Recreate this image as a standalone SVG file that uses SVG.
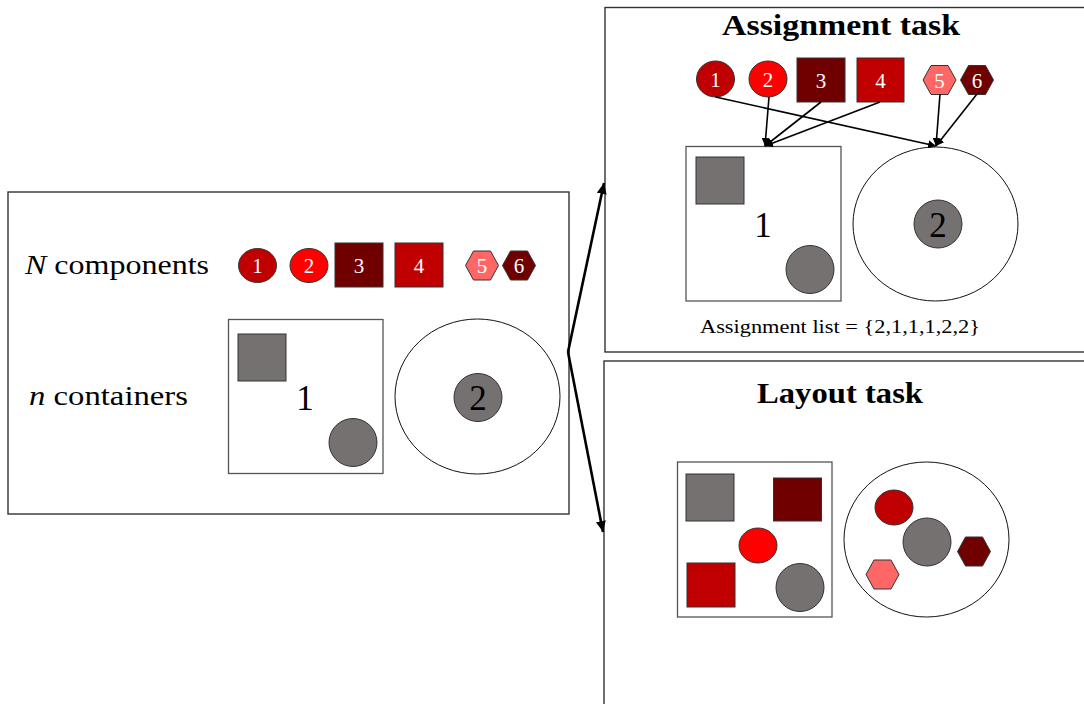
<svg xmlns="http://www.w3.org/2000/svg" xmlns:xlink="http://www.w3.org/1999/xlink" width="1084" height="704" viewBox="0 0 1084 704">
<style>
text{font-family:"Liberation Serif","DejaVu Serif",serif;fill:#000}
.panel{fill:#fff;stroke:#333;stroke-width:1.4}
.cont{fill:#fff;stroke:#555;stroke-width:1.3}
.ell{fill:#fff;stroke:#111;stroke-width:1}
.gray{fill:#767171;stroke:#333;stroke-width:1}
.r1{fill:#c00000;stroke:#333;stroke-width:1}
.r2{fill:#ff0000;stroke:#333;stroke-width:1}
.r3{fill:#700000;stroke:#333;stroke-width:1}
.r5{fill:#ff6666;stroke:#333;stroke-width:1}
.num{fill:#fff;font-size:21px;text-anchor:middle}
.big{font-size:35px;text-anchor:middle}
.title{font-size:30px;font-weight:bold}
.lbl{font-size:27px}
.conn{stroke:#000;stroke-width:1.6;fill:none}
.main{stroke:#000;stroke-width:2.6;fill:none}
</style>
<defs>
<polygon id="hex" points="-16.5,0 -8.5,-14.5 8.5,-14.5 16.5,0 8.5,14.5 -8.5,14.5"/>
<marker id="as" markerUnits="userSpaceOnUse" markerWidth="9" markerHeight="8" refX="8" refY="4" orient="auto"><path d="M0,0 L8,4 L0,8 z" fill="#000"/></marker>
<marker id="ab" markerUnits="userSpaceOnUse" markerWidth="12" markerHeight="10" refX="11" refY="5" orient="auto"><path d="M0,0 L11,5 L0,10 z" fill="#000"/></marker>
</defs>
<rect width="1084" height="704" fill="#fff"/>

<g id="input-panel">
<rect class="panel" x="8" y="192" width="561" height="322"/>
<text class="lbl" x="25" y="274" textLength="184" lengthAdjust="spacingAndGlyphs"><tspan font-style="italic">N</tspan> components</text>
<text class="lbl" x="29" y="405" textLength="159" lengthAdjust="spacingAndGlyphs"><tspan font-style="italic">n</tspan> containers</text>
</g>
<g id="input-comp-1"><ellipse class="r1" cx="257.5" cy="265.5" rx="19" ry="17"/><text class="num" x="257.5" y="273">1</text></g>
<g id="input-comp-2"><ellipse class="r2" cx="309" cy="265.5" rx="19" ry="17"/><text class="num" x="309" y="273">2</text></g>
<g id="input-comp-3"><rect class="r3" x="335" y="243" width="48" height="44"/><text class="num" x="359" y="273">3</text></g>
<g id="input-comp-4"><rect class="r1" x="395" y="243" width="48" height="44"/><text class="num" x="419" y="273">4</text></g>
<g id="input-comp-5"><use xlink:href="#hex" href="#hex" class="r5" x="482" y="265.5"/><text class="num" x="482" y="273">5</text></g>
<g id="input-comp-6"><use xlink:href="#hex" href="#hex" class="r3" x="519" y="265.5"/><text class="num" x="519" y="273">6</text></g>
<g id="input-container-1">
<rect class="cont" x="228.5" y="319.5" width="154.5" height="154"/>
<rect class="gray" x="238" y="334" width="48" height="47"/>
<text class="big" x="305" y="410">1</text>
<circle class="gray" cx="353" cy="442.5" r="24"/>
</g>
<g id="input-container-2">
<ellipse class="ell" cx="477.5" cy="396.5" rx="82.5" ry="77.5"/>
<circle class="gray" cx="478" cy="397.5" r="24"/>
<text class="big" x="478" y="410">2</text>
</g>

<g id="assignment-panel">
<rect class="panel" x="605" y="7.5" width="500" height="344.5"/>
<text class="title" x="722" y="35" textLength="238" lengthAdjust="spacingAndGlyphs">Assignment task</text>
<text x="700" y="333" font-size="19" textLength="280" lengthAdjust="spacingAndGlyphs">Assignment list = {2,1,1,1,2,2}</text>
</g>
<g id="assign-comp-1"><ellipse class="r1" cx="715.5" cy="79" rx="19" ry="18"/><text class="num" x="715.5" y="87">1</text></g>
<g id="assign-comp-2"><ellipse class="r2" cx="768" cy="79" rx="19" ry="18"/><text class="num" x="768" y="87">2</text></g>
<g id="assign-comp-3"><rect class="r3" x="797" y="58" width="48" height="44"/><text class="num" x="821" y="88">3</text></g>
<g id="assign-comp-4"><rect class="r1" x="857" y="58" width="47" height="44"/><text class="num" x="880.5" y="88">4</text></g>
<g id="assign-comp-5"><use xlink:href="#hex" href="#hex" class="r5" x="939.5" y="80"/><text class="num" x="939.5" y="88">5</text></g>
<g id="assign-comp-6"><use xlink:href="#hex" href="#hex" class="r3" x="977" y="80"/><text class="num" x="977" y="88">6</text></g>
<g id="assign-container-1">
<rect class="cont" x="686" y="146.5" width="155" height="154.5"/>
<rect class="gray" x="696" y="157" width="48" height="47"/>
<text class="big" x="763" y="237">1</text>
<circle class="gray" cx="810" cy="269.5" r="24"/>
</g>
<g id="assign-container-2">
<ellipse class="ell" cx="935.5" cy="224" rx="82.5" ry="77"/>
<circle class="gray" cx="938" cy="224" r="24"/>
<text class="big" x="938" y="237">2</text>
</g>

<g id="layout-panel">
<rect class="panel" x="604" y="361" width="500" height="400"/>
<text class="title" x="757" y="403" textLength="166" lengthAdjust="spacingAndGlyphs">Layout task</text>
</g>
<g id="layout-container-1">
<rect class="cont" x="677.5" y="462" width="154.5" height="155"/>
<rect class="gray" x="686" y="474" width="48" height="47"/>
<rect class="r3" x="773.5" y="478" width="48" height="43"/>
<ellipse class="r2" cx="758" cy="545.5" rx="19" ry="17.5"/>
<rect class="r1" x="687" y="563" width="48" height="44"/>
<circle class="gray" cx="800" cy="587.5" r="24"/>
</g>
<g id="layout-container-2">
<ellipse class="ell" cx="926.5" cy="539.5" rx="82.5" ry="77.5"/>
<ellipse class="r1" cx="894" cy="507.5" rx="19" ry="17.5"/>
<circle class="gray" cx="927" cy="542" r="24"/>
<use xlink:href="#hex" href="#hex" class="r3" x="974" y="551.5"/>
<use xlink:href="#hex" href="#hex" class="r5" x="882.5" y="574.5"/>
</g>

<g id="connectors">
<line class="main" x1="568" y1="352" x2="604" y2="183" marker-end="url(#ab)"/>
<line class="main" x1="568" y1="352" x2="603" y2="532" marker-end="url(#ab)"/>
<line class="conn" x1="715.5" y1="97" x2="936" y2="146" marker-end="url(#as)"/>
<line class="conn" x1="769" y1="97" x2="765" y2="146" marker-end="url(#as)"/>
<line class="conn" x1="821" y1="102" x2="765" y2="146" marker-end="url(#as)"/>
<line class="conn" x1="880" y1="102" x2="765" y2="146" marker-end="url(#as)"/>
<line class="conn" x1="940" y1="94" x2="936" y2="146" marker-end="url(#as)"/>
<line class="conn" x1="977" y1="94" x2="936" y2="146" marker-end="url(#as)"/>
</g>
</svg>
